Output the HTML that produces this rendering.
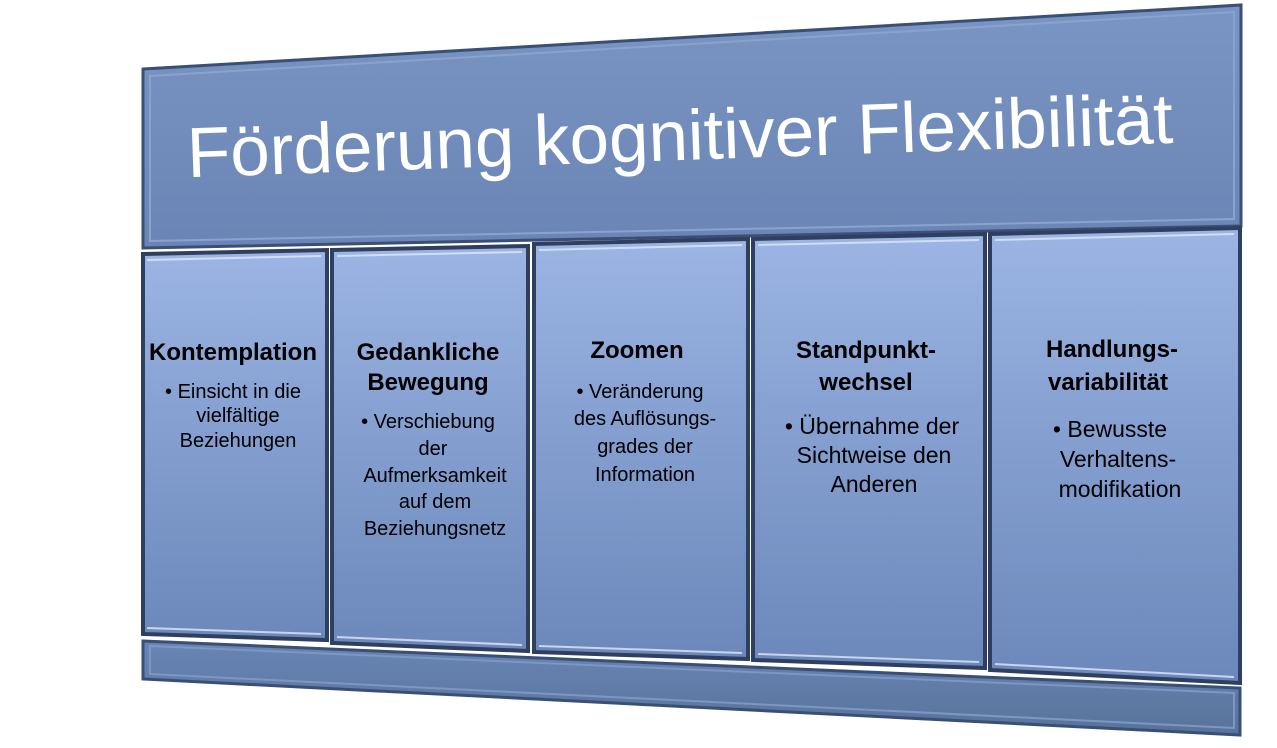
<!DOCTYPE html>
<html><head><meta charset="utf-8"><style>
html,body{margin:0;padding:0;background:#fff;}
svg{display:block;}
text{font-family:"Liberation Sans",Arial,sans-serif;}
.h{font-weight:bold;font-size:24px;fill:#000;}
.b{font-size:20px;fill:#000;}
.b2{font-size:23px;fill:#000;}
</style></head><body>
<svg width="1277" height="748" viewBox="0 0 1277 748" xmlns="http://www.w3.org/2000/svg">
<defs>
<linearGradient id="ban" x1="0" y1="0" x2="0" y2="1"><stop offset="0" stop-color="#7a95c3"/><stop offset="1" stop-color="#6a85b5"/></linearGradient>
<linearGradient id="col" x1="0" y1="0" x2="0" y2="1"><stop offset="0" stop-color="#9cb5e4"/><stop offset="0.5" stop-color="#829dce"/><stop offset="1" stop-color="#6c88ba"/></linearGradient>
<linearGradient id="base" x1="0" y1="0" x2="0" y2="1"><stop offset="0" stop-color="#6985b5"/><stop offset="1" stop-color="#587399"/></linearGradient>
</defs>
<polygon points="143,641 1240,688 1240,735 143,679" fill="url(#base)" stroke="#3a4f75" stroke-width="3"/>
<polygon points="150,646 1234,693 1234,728 150,674" fill="none" stroke="#7d97c4" stroke-width="2"/>
<polygon points="143,69 1241,5 1241,226 143,248" fill="url(#ban)" stroke="#3a4f75" stroke-width="3"/>
<polygon points="150,76 1234,12 1234,219 150,241" fill="none" stroke="#8aa3ce" stroke-width="2"/>
<text x="680" y="160" text-anchor="middle" font-size="71" fill="#fff" transform="rotate(-2 680 140)">Förderung kognitiver Flexibilität</text>
<g stroke="#2e3f60" stroke-width="4">
<polygon points="143,254 327,250 327,640 143,634" fill="url(#col)"/>
<polygon points="332,250 528,246 528,651 332,643" fill="url(#col)"/>
<polygon points="534,244 748,239 748,659 534,652" fill="url(#col)"/>
<polygon points="753,239 985,234 985,668 753,660" fill="url(#col)"/>
<polygon points="990,234 1240,228 1240,683 990,670" fill="url(#col)"/>
</g>
<g fill="none" stroke="#dfe8f7" stroke-width="2" opacity="0.8">
<polyline points="147,260 321,256"/><polyline points="337,256 522,252"/><polyline points="539,250 742,245"/><polyline points="758,245 979,240"/><polyline points="995,240 1234,234"/>
<polyline points="147,628 321,634"/><polyline points="337,637 522,645"/><polyline points="539,646 742,653"/><polyline points="758,654 979,662"/><polyline points="995,664 1234,677"/>
</g>
<text class="h" x="233" y="360" text-anchor="middle">Kontemplation</text>
<text class="b" x="233" y="398" text-anchor="middle">• Einsicht in die</text>
<text class="b" x="238" y="422" text-anchor="middle">vielfältige</text>
<text class="b" x="238" y="447" text-anchor="middle">Beziehungen</text>

<text class="h" x="428" y="360" text-anchor="middle">Gedankliche</text>
<text class="h" x="428" y="390" text-anchor="middle">Bewegung</text>
<text class="b" x="428" y="428" text-anchor="middle">• Verschiebung</text>
<text class="b" x="433" y="455" text-anchor="middle">der</text>
<text class="b" x="435" y="482" text-anchor="middle">Aufmerksamkeit</text>
<text class="b" x="435" y="508" text-anchor="middle">auf dem</text>
<text class="b" x="435" y="535" text-anchor="middle">Beziehungsnetz</text>

<text class="h" x="637" y="358" text-anchor="middle">Zoomen</text>
<text class="b" x="640" y="398" text-anchor="middle">• Veränderung</text>
<text class="b" x="645" y="425" text-anchor="middle">des Auflösungs-</text>
<text class="b" x="645" y="453" text-anchor="middle">grades der</text>
<text class="b" x="645" y="481" text-anchor="middle">Information</text>

<text class="h" x="866" y="358" text-anchor="middle">Standpunkt-</text>
<text class="h" x="866" y="390" text-anchor="middle">wechsel</text>
<text class="b2" x="872" y="434" text-anchor="middle">• Übernahme der</text>
<text class="b2" x="874" y="463" text-anchor="middle">Sichtweise den</text>
<text class="b2" x="874" y="492" text-anchor="middle">Anderen</text>

<text class="h" x="1112" y="357" text-anchor="middle" font-size="26">Handlungs-</text>
<text class="h" x="1108" y="390" text-anchor="middle" font-size="26">variabilität</text>
<text class="b2" x="1110" y="437" text-anchor="middle" font-size="24">• Bewusste</text>
<text class="b2" x="1118" y="467" text-anchor="middle" font-size="24">Verhaltens-</text>
<text class="b2" x="1120" y="497" text-anchor="middle" font-size="24">modifikation</text>
</svg>
</body></html>
